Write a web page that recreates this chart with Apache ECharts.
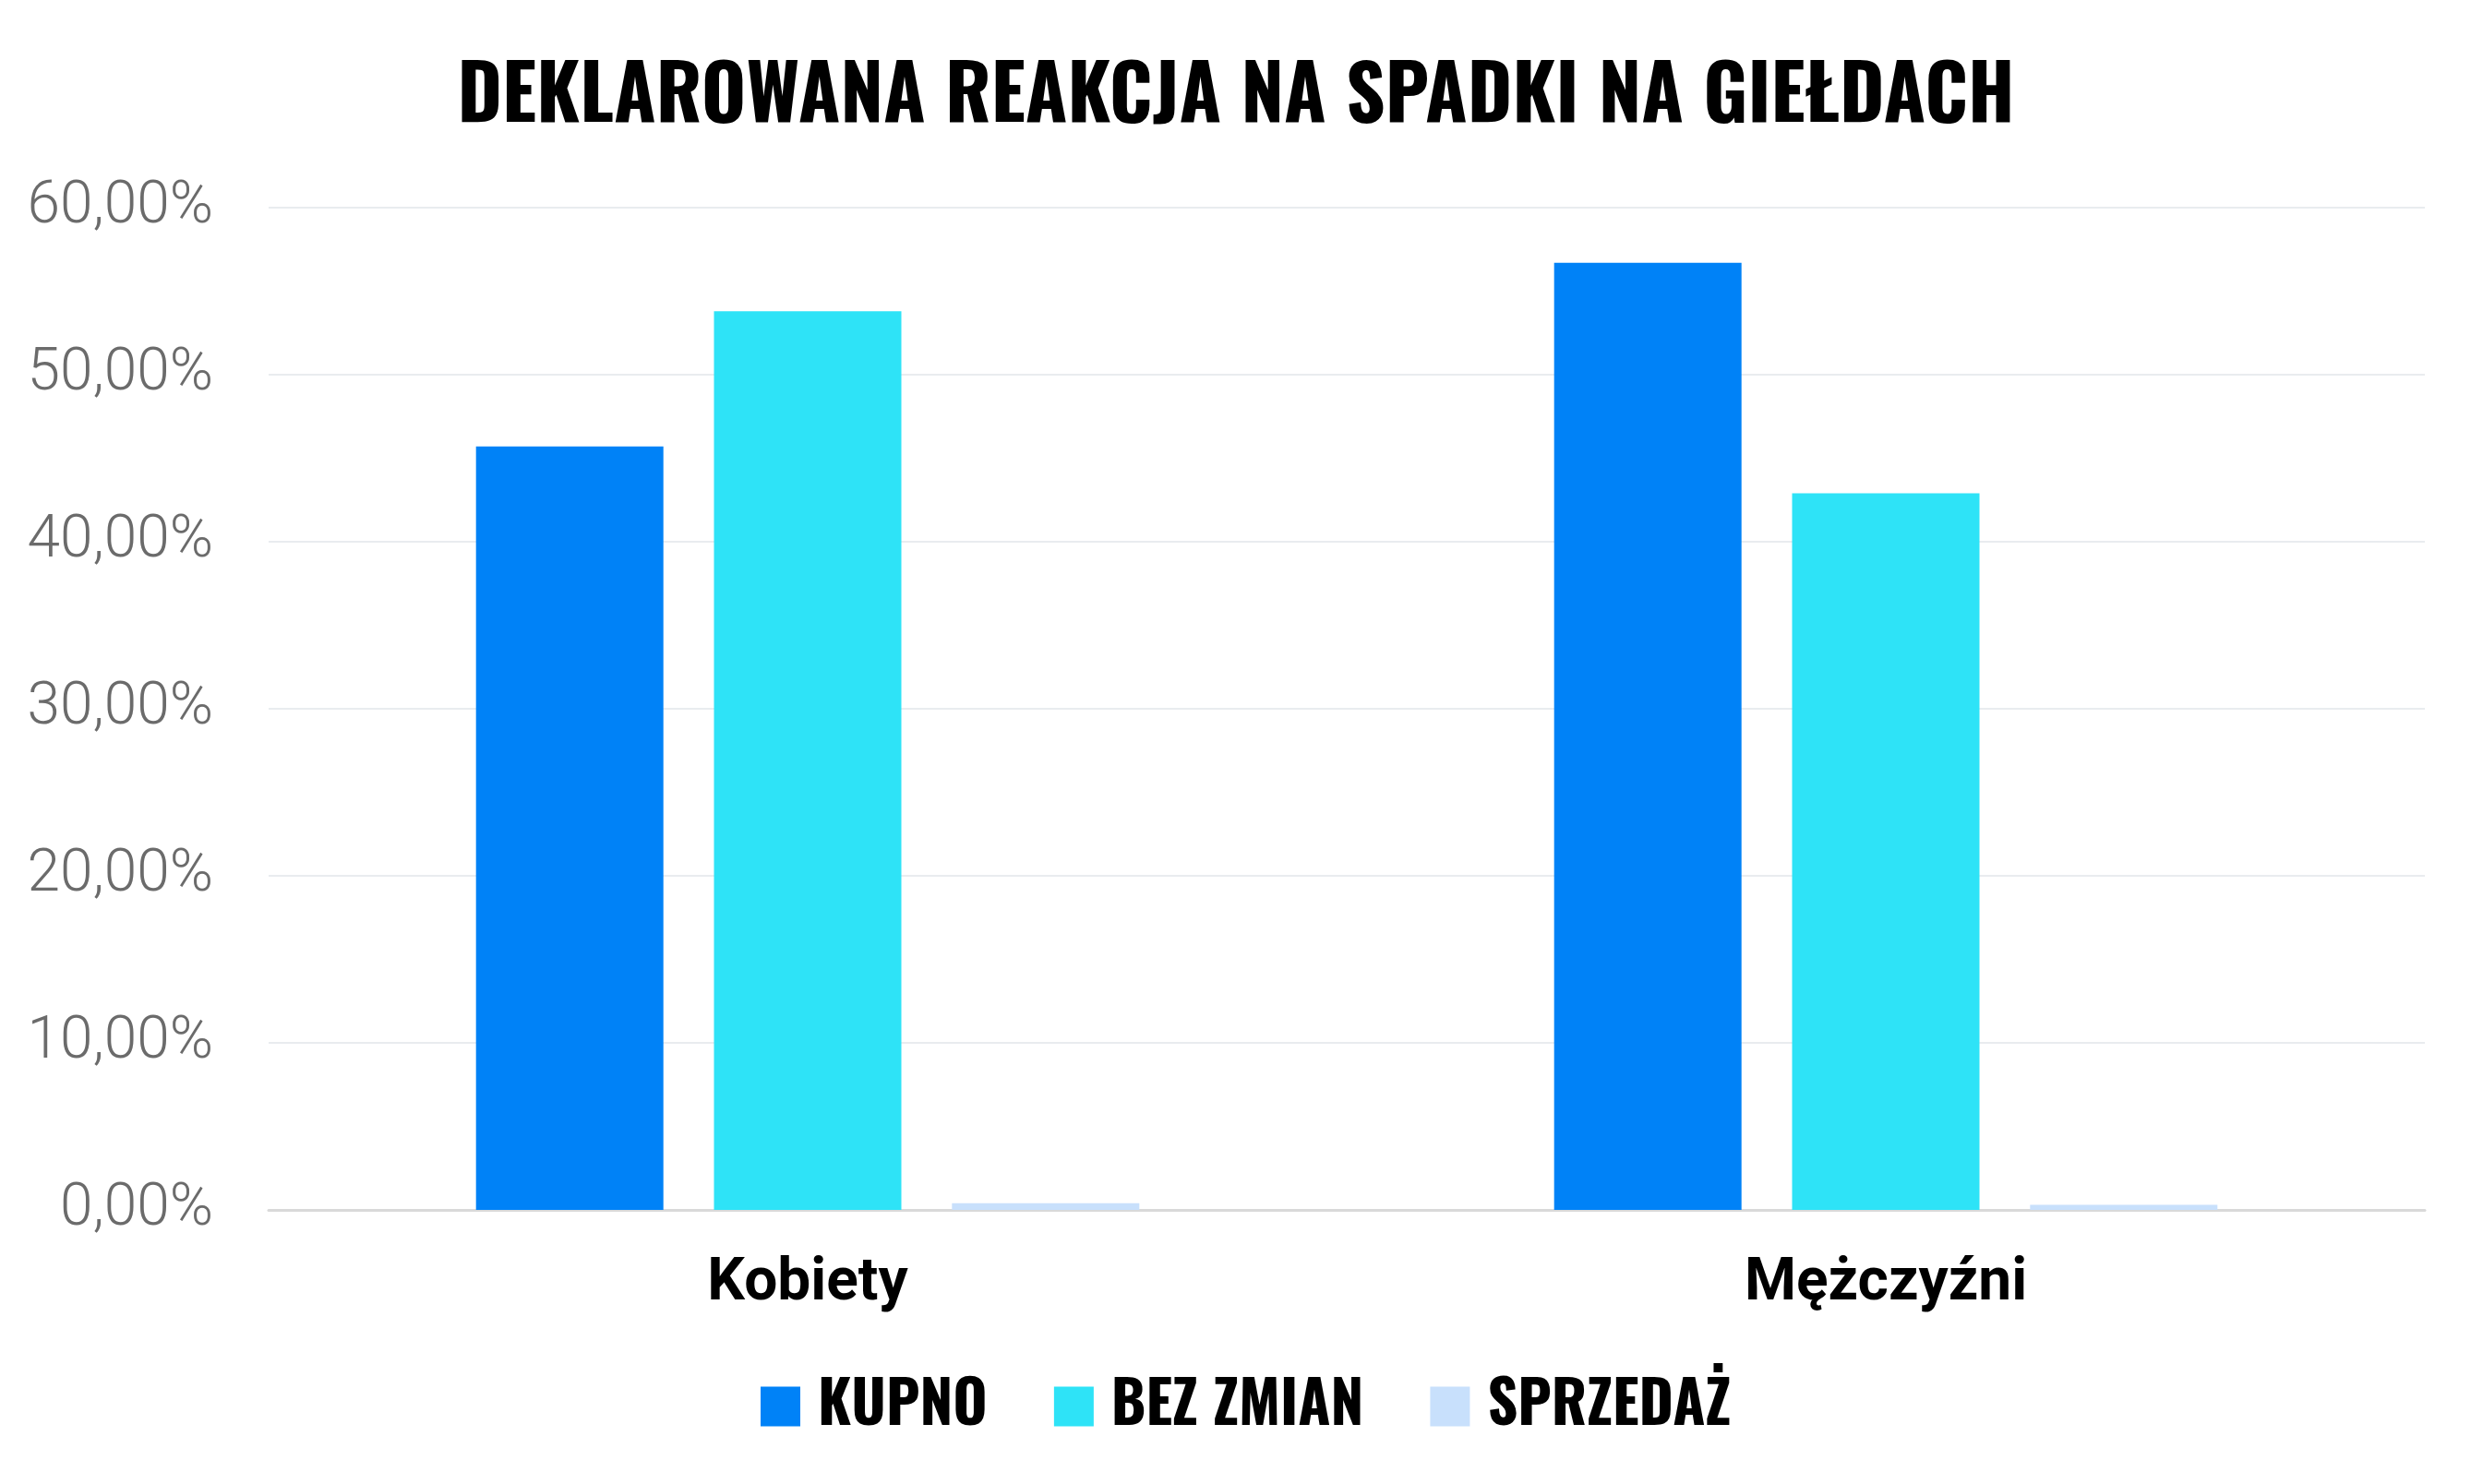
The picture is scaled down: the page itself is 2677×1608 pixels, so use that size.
<!DOCTYPE html>
<html>
<head>
<meta charset="utf-8">
<title>Deklarowana reakcja na spadki na giełdach</title>
<script src="https://cdn.jsdelivr.net/npm/echarts@6/dist/echarts.min.js"></script>
<style>
  html, body { margin: 0; padding: 0; background: #fff; }
  #chart { width: 2677px; height: 1608px; }
</style>
</head>
<body>
<div id="chart"></div>
<script>
// dane
const categories = ['Kobiety', 'Mężczyźni'];
const seriesNames = ['KUPNO', 'BEZ ZMIAN', 'SPRZEDAŻ'];
const kupno = [45.7, 56.7];
const bezZmian = [53.8, 42.9];
const sprzedaz = [0.4, 0.3];
const yTicks = [0, 10, 20, 30, 40, 50, 60];

const condensed = 'Oswald, "Liberation Sans Narrow", "DejaVu Sans Condensed", "Roboto Condensed", "Open Sans", sans-serif';
const colors = ['#0082f7', '#2ee3f7', '#c8e0fc'];

let setChart = function (ele, options) {
  let myChart = echarts.init(ele);
  myChart.setOption(options);
  return myChart;
};

const options = {
  backgroundColor: '#fff',
  animation: false,
  color: colors,
  title: {
    text: 'DEKLAROWANA REAKCJA NA SPADKI NA GIEŁDACH',
    left: 1334,
    textAlign: 'center',
    top: 61,
    textStyle: {
      fontFamily: condensed,
      fontWeight: 'bold',
      fontSize: 83,
      color: '#000'
    }
  },
  legend: {
    data: seriesNames,
    left: 819,
    top: 1487,
    icon: 'rect',
    itemWidth: 43,
    itemHeight: 43,
    itemGap: 72,
    textStyle: {
      fontFamily: condensed,
      fontWeight: 'bold',
      fontSize: 64,
      color: '#000',
      padding: [0, 0, 0, 14]
    }
  },
  grid: {
    left: 291,
    right: 50,
    top: 225,
    bottom: 297,
    containLabel: false
  },
  xAxis: {
    type: 'category',
    data: categories,
    axisTick: { show: false },
    axisLine: { lineStyle: { color: '#d9d9d9', width: 3 } },
    axisLabel: {
      margin: 49,
      fontFamily: 'Roboto, sans-serif',
      fontWeight: 'bold',
      fontSize: 64,
      color: '#000'
    }
  },
  yAxis: {
    type: 'value',
    min: yTicks[0],
    max: yTicks[yTicks.length - 1],
    interval: yTicks[1] - yTicks[0],
    axisLine: { show: false },
    axisTick: { show: false },
    splitLine: { lineStyle: { color: '#e9ecef', width: 2 } },
    axisLabel: {
      margin: 60,
      fontFamily: 'Roboto, sans-serif',
      fontWeight: 300,
      fontSize: 64,
      color: '#6b6b6b',
      formatter: v => v.toFixed(2).replace('.', ',') + '%'
    }
  },
  series: [
    { name: seriesNames[0], type: 'bar', data: kupno, barWidth: 203, barGap: '27%' },
    { name: seriesNames[1], type: 'bar', data: bezZmian, barWidth: 203, barGap: '27%' },
    { name: seriesNames[2], type: 'bar', data: sprzedaz, barWidth: 203, barGap: '27%' }
  ]
};

setChart(document.getElementById('chart'), options);
</script>
</body>
</html>
